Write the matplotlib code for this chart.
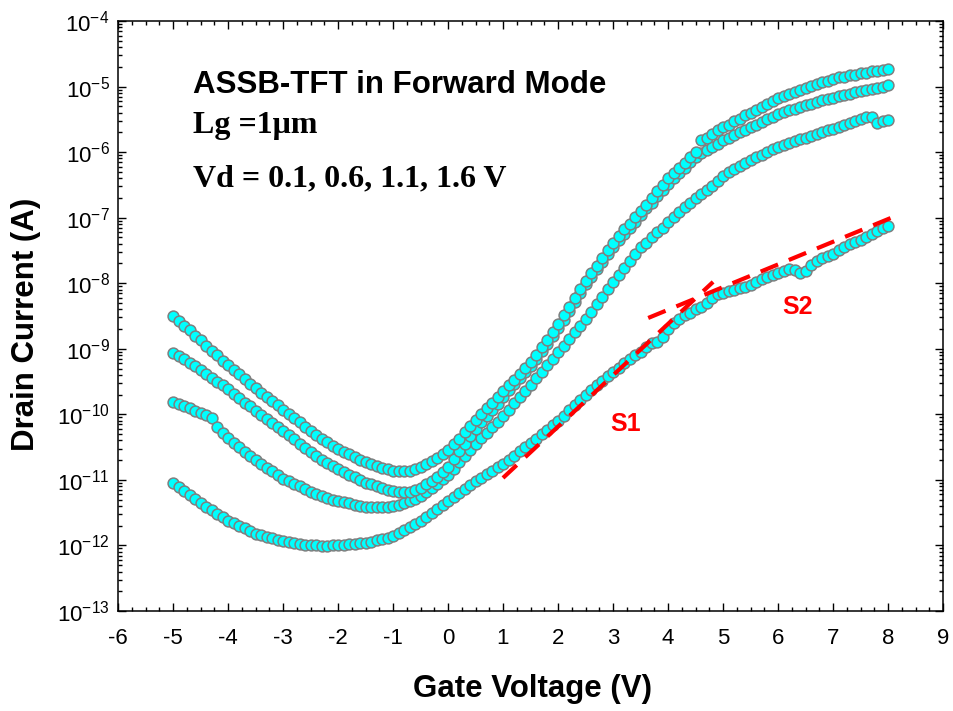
import numpy as np
import matplotlib
matplotlib.use("Agg")
import matplotlib.pyplot as plt
from matplotlib.ticker import MultipleLocator, LogLocator, NullFormatter

plt.rcParams["font.family"] = ["Liberation Sans", "DejaVu Sans"]
plt.rcParams["mathtext.fontset"] = "custom"
plt.rcParams["mathtext.rm"] = "Liberation Sans"
plt.rcParams["mathtext.default"] = "regular"
plt.rcParams["axes.unicode_minus"] = False

# gate voltage sweep, -5 V .. 8 V in 0.1 V steps
vg = np.arange(-50, 81) / 10

# log10 of drain current, one list per drain voltage
log_id_vd16 = [
    -8.50, -8.58, -8.65, -8.72, -8.80, -8.87, -8.95, -9.03, -9.10, -9.18,
    -9.25, -9.32, -9.39, -9.46, -9.53, -9.60, -9.67, -9.73, -9.80, -9.86,
    -9.93, -10.00, -10.06, -10.12, -10.19, -10.25, -10.31, -10.37, -10.42, -10.48,
    -10.53, -10.57, -10.61, -10.65, -10.69, -10.73, -10.76, -10.79, -10.82, -10.84,
    -10.86, -10.87, -10.87, -10.86, -10.84, -10.80, -10.76, -10.71, -10.66, -10.61,
    -10.55, -10.46, -10.37, -10.27, -10.18, -10.08, -9.99, -9.91, -9.82, -9.74,
    -9.65, -9.56, -9.47, -9.38, -9.29, -9.20, -9.09, -8.97, -8.86, -8.74,
    -8.62, -8.49, -8.36, -8.22, -8.09, -7.96, -7.84, -7.73, -7.61, -7.50,
    -7.38, -7.28, -7.18, -7.09, -6.99, -6.90, -6.80, -6.70, -6.60, -6.50,
    -6.40, -6.32, -6.24, -6.16, -6.08, -6.00, -5.82, -5.78, -5.73, -5.67,
    -5.62, -5.58, -5.53, -5.49, -5.44, -5.40, -5.35, -5.31, -5.27, -5.22,
    -5.18, -5.15, -5.12, -5.08, -5.05, -5.02, -4.99, -4.96, -4.93, -4.91,
    -4.88, -4.86, -4.85, -4.83, -4.82, -4.80, -4.79, -4.77, -4.76, -4.74,
    -4.73,
]
log_id_vd11 = [
    -9.06, -9.11, -9.16, -9.21, -9.26, -9.32, -9.38, -9.44, -9.50, -9.56,
    -9.62, -9.69, -9.75, -9.82, -9.88, -9.95, -10.01, -10.07, -10.13, -10.19,
    -10.25, -10.32, -10.38, -10.45, -10.51, -10.58, -10.63, -10.69, -10.74, -10.79,
    -10.84, -10.88, -10.92, -10.96, -11.00, -11.04, -11.07, -11.10, -11.13, -11.15,
    -11.17, -11.18, -11.19, -11.18, -11.16, -11.12, -11.07, -11.01, -10.95, -10.88,
    -10.80, -10.68, -10.56, -10.45, -10.33, -10.22, -10.12, -10.03, -9.93, -9.84,
    -9.73, -9.63, -9.54, -9.44, -9.35, -9.26, -9.15, -9.04, -8.93, -8.81,
    -8.69, -8.56, -8.42, -8.28, -8.15, -8.01, -7.90, -7.78, -7.67, -7.55,
    -7.44, -7.34, -7.25, -7.15, -7.06, -6.96, -6.86, -6.77, -6.67, -6.58,
    -6.48, -6.40, -6.32, -6.24, -6.15, -6.07, -6.02, -5.97, -5.92, -5.87,
    -5.82, -5.78, -5.74, -5.70, -5.66, -5.62, -5.58, -5.54, -5.50, -5.46,
    -5.42, -5.39, -5.36, -5.34, -5.31, -5.28, -5.26, -5.24, -5.21, -5.19,
    -5.17, -5.15, -5.13, -5.11, -5.09, -5.07, -5.05, -5.03, -5.02, -5.00,
    -4.98,
]
log_id_vd06 = [
    -9.81, -9.84, -9.88, -9.91, -9.95, -9.98, -10.01, -10.05, -10.20, -10.28,
    -10.36, -10.43, -10.50, -10.57, -10.63, -10.70, -10.76, -10.82, -10.87, -10.93,
    -10.98, -11.02, -11.06, -11.10, -11.14, -11.18, -11.21, -11.24, -11.27, -11.30,
    -11.32, -11.34, -11.36, -11.38, -11.40, -11.41, -11.42, -11.42, -11.42, -11.41,
    -11.40, -11.38, -11.35, -11.32, -11.29, -11.25, -11.19, -11.13, -11.06, -10.99,
    -10.92, -10.83, -10.73, -10.64, -10.54, -10.45, -10.36, -10.28, -10.19, -10.11,
    -10.02, -9.93, -9.83, -9.74, -9.64, -9.55, -9.45, -9.35, -9.25, -9.15,
    -9.05, -8.95, -8.85, -8.75, -8.65, -8.55, -8.44, -8.32, -8.21, -8.09,
    -7.98, -7.87, -7.77, -7.66, -7.56, -7.45, -7.38, -7.30, -7.22, -7.15,
    -7.07, -6.99, -6.92, -6.84, -6.77, -6.70, -6.64, -6.58, -6.52, -6.44,
    -6.36, -6.31, -6.26, -6.21, -6.16, -6.12, -6.08, -6.04, -6.00, -5.96,
    -5.92, -5.89, -5.86, -5.83, -5.80, -5.78, -5.75, -5.72, -5.70, -5.67,
    -5.65, -5.62, -5.59, -5.56, -5.53, -5.50, -5.47, -5.46, -5.55, -5.53,
    -5.51,
]
log_id_vd01 = [
    -11.05, -11.11, -11.17, -11.23, -11.29, -11.35, -11.41, -11.46, -11.52, -11.57,
    -11.62, -11.66, -11.70, -11.74, -11.78, -11.82, -11.84, -11.87, -11.89, -11.91,
    -11.93, -11.95, -11.96, -11.98, -11.99, -12.00, -12.00, -12.01, -12.01, -12.00,
    -12.00, -11.99, -11.98, -11.98, -11.97, -11.96, -11.94, -11.92, -11.90, -11.88,
    -11.85, -11.81, -11.76, -11.72, -11.67, -11.62, -11.56, -11.50, -11.44, -11.38,
    -11.32, -11.26, -11.20, -11.14, -11.08, -11.02, -10.97, -10.91, -10.86, -10.80,
    -10.75, -10.69, -10.63, -10.56, -10.50, -10.44, -10.37, -10.30, -10.24, -10.17,
    -10.10, -10.02, -9.94, -9.86, -9.78, -9.70, -9.63, -9.56, -9.49, -9.42,
    -9.35, -9.29, -9.22, -9.16, -9.10, -9.05, -8.97, -8.91, -8.90, -8.82,
    -8.70, -8.61, -8.55, -8.48, -8.45, -8.40, -8.36, -8.30, -8.22, -8.16,
    -8.15, -8.12, -8.10, -8.07, -8.05, -8.02, -7.98, -7.93, -7.90, -7.87,
    -7.85, -7.82, -7.78, -7.80, -7.85, -7.82, -7.72, -7.66, -7.62, -7.58,
    -7.55, -7.50, -7.45, -7.40, -7.37, -7.34, -7.30, -7.25, -7.20, -7.16,
    -7.12,
]

# subthreshold slope guide lines (end points, V and log10 A)
s1_v = [1.0, 4.82]
s1_log = [-10.97, -7.98]
s2_v = [3.64, 8.18]
s2_log = [-8.53, -6.96]

fig = plt.figure(figsize=(9.54, 7.11), dpi=100)
ax = fig.add_axes([118 / 954, 1 - 611 / 711, 825 / 954, 590 / 711])

for curve in (log_id_vd01, log_id_vd06, log_id_vd11, log_id_vd16):
    ax.plot(vg, 10 ** np.array(curve), "o", ms=7.8, mfc="#00FFFF",
            mec="#7F7F7F", mew=1.1, ls="none")

for v, lg in ((s1_v, s1_log), (s2_v, s2_log)):
    ax.plot(v, 10 ** np.array(lg), color="#FF0000", lw=3,
            dashes=(4.5, 2.8), dash_capstyle="butt")

ax.set_yscale("log")
ax.set_xlim(-6, 9)
ax.set_ylim(1e-13, 1e-4)
ax.xaxis.set_major_locator(MultipleLocator(1))
ax.xaxis.set_minor_locator(MultipleLocator(0.25))
ax.yaxis.set_major_locator(LogLocator(base=10, numticks=20))
ax.yaxis.set_minor_locator(LogLocator(base=10, subs=np.arange(2, 10), numticks=20))
ax.yaxis.set_minor_formatter(NullFormatter())

ax.tick_params(which="both", direction="in", top=True, right=True,
               width=1, labelsize=16)
ax.tick_params(which="major", length=6)
ax.tick_params(which="minor", length=3)
ax.tick_params(axis="x", pad=12)
ax.tick_params(axis="y", pad=6)
for sp in ax.spines.values():
    sp.set_linewidth(1.1)

ax.set_xlabel("Gate Voltage (V)", fontsize=22.5, fontweight="bold", va="center")
ax.set_ylabel("Drain Current (A)", fontsize=22.5, fontweight="bold", va="center")
ax.xaxis.set_label_coords(0.502, -0.132)
ax.yaxis.set_label_coords(-0.112, 0.485)

ax.text(0.0909, 0.878, "ASSB-TFT in Forward Mode", transform=ax.transAxes,
        fontsize=22.5, fontweight="bold", ha="left", va="baseline")
ax.text(0.0909, 0.810, "Lg =1μm", transform=ax.transAxes,
        family="Liberation Serif", fontsize=23, fontweight="bold",
        ha="left", va="baseline")
ax.text(0.0909, 0.719, "Vd = 0.1, 0.6, 1.1, 1.6 V", transform=ax.transAxes,
        family="Liberation Serif", fontsize=23, fontweight="bold",
        ha="left", va="baseline")
ax.text(0.615, 0.317, "S1", transform=ax.transAxes, color="#FF0000",
        fontsize=18, fontweight="bold", ha="center", va="center")
ax.text(0.824, 0.515, "S2", transform=ax.transAxes, color="#FF0000",
        fontsize=18, fontweight="bold", ha="center", va="center")

fig.savefig("out.png", dpi=100)
